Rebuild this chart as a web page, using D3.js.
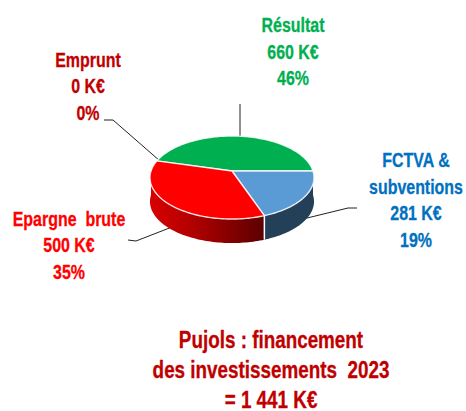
<!DOCTYPE html>
<html>
<head>
    <title>Pujols financement 2023</title>
    <script src="https://cdnjs.cloudflare.com/ajax/libs/d3/7.8.5/d3.min.js"></script>
    <style>
        html, body { margin: 0; padding: 0; background: #fff; }
        text { font-family: "Liberation Sans", Arial, sans-serif; font-weight: bold; text-anchor: middle; white-space: pre; }
    </style>
</head>
<body>
    <div id="vis"></div>

    <script>
        var categories = ["Emprunt", "Résultat", "FCTVA", "Epargne brute"];
        var values = [0, 660, 281, 500];
        var sliceColors = ["#c00000", "#00b050", "#5b9bd5", "#ff0000"];
        var labelLines = [
            ["Emprunt", "0 K€", "0%"],
            ["Résultat", "660 K€", "46%"],
            ["FCTVA &", "subventions", "281 K€", "19%"],
            ["Epargne  brute", "500 K€", "35%"]
        ];
        var labelColors = ["#c00000", "#00b050", "#0070c0", "#ff0000"];
        var titleLines = ["Pujols : financement", "des investissements  2023", "= 1 441 K€"];

        var width = 466, height = 411;
        var cx = 232, cy = 171, radius = 81, tilt = 0.5, persp = 0.157, depth = 24;

        var vis = d3.select("#vis").append("svg")
            .attr("width", width)
            .attr("height", height);

        var defs = vis.append("defs");
        var grad = defs.append("linearGradient").attr("id", "redSide");
        grad.append("stop").attr("offset", "0%").attr("stop-color", "#d80000");
        grad.append("stop").attr("offset", "35%").attr("stop-color", "#b40000");
        grad.append("stop").attr("offset", "100%").attr("stop-color", "#5c0000");

        // flat pie angles -> tilted disc with a bit of perspective
        function project(a, r, drop) {
            var X = Math.sin(a) * r, Y = -Math.cos(a) * r;
            var s = 1 / (1 - persp * Y);
            return [cx + radius * X * s, cy + radius * tilt * Y * s + (drop || 0)];
        }

        var pie = d3.pie().sort(null)
            .startAngle(285 * Math.PI / 180)
            .endAngle(645 * Math.PI / 180);
        var slices = pie(values);

        var line = d3.line();

        function rim(a0, a1, drop) {
            var n = Math.max(2, Math.ceil((a1 - a0) * 40));
            return d3.range(n + 1).map(function(i) {
                return project(a0 + (a1 - a0) * i / n, 1, drop);
            });
        }

        // leader lines go under the pie
        var leaders = [
            [[104, 120], [113, 120], [160, 161]],
            [[240, 104], [240, 137]],
            [[357, 208], [348, 208], [303, 219]],
            [[128, 240], [136, 241], [172, 227]]
        ];
        vis.selectAll("path.leader").data(leaders).enter().append("path")
            .attr("class", "leader")
            .attr("d", line)
            .style("fill", "none")
            .style("stroke", "#222")
            .style("stroke-width", 1);

        // side walls, only the part facing us (pie angles run past 360 deg here)
        var sides = [
            { slice: slices[2], fill: "#243f58" },
            { slice: slices[3], fill: "url(#redSide)" }
        ];
        vis.selectAll("path.side").data(sides).enter().append("path")
            .attr("class", "side")
            .attr("d", function(d) {
                var a0 = Math.max(d.slice.startAngle, 2.5 * Math.PI);
                var a1 = Math.min(d.slice.endAngle, 3.5 * Math.PI);
                return line(rim(a0, a1, 0).concat(rim(a0, a1, depth).reverse())) + "Z";
            })
            .style("fill", function(d) { return d.fill; });

        // white split between the two walls
        vis.append("path")
            .attr("d", line(rim(slices[3].startAngle, slices[3].startAngle, 0).slice(0, 1)
                .concat(rim(slices[3].startAngle, slices[3].startAngle, depth).slice(0, 1))))
            .style("stroke", "#fff")
            .style("stroke-width", 1.5);

        // top of the pie
        vis.selectAll("path.top").data(slices).enter().append("path")
            .attr("class", "top")
            .attr("d", function(d) {
                return line([[cx, cy]].concat(rim(d.startAngle, d.endAngle, 0))) + "Z";
            })
            .style("fill", function(d, i) { return sliceColors[i]; })
            .style("stroke", "#fff")
            .style("stroke-width", 1.4)
            .style("stroke-opacity", 0.85);

        function addText(lines, x, y, step, size, squeeze, color) {
            var g = vis.append("g")
                .attr("transform", "translate(" + x + ",0) scale(" + squeeze + ",1)")
                .style("fill", color)
                .style("stroke", color)
                .style("stroke-width", 0.3)
                .style("font-size", size + "px");
            g.selectAll("text").data(lines).enter().append("text")
                .attr("y", function(d, i) { return y + i * step; })
                .text(function(d) { return d; });
        }

        var labelPos = [[88, 67, 26.5], [293, 32, 26.7], [416, 167, 26.7], [69, 226, 26.5]];
        labelLines.forEach(function(l, i) {
            addText(l, labelPos[i][0], labelPos[i][1], labelPos[i][2], 21, 0.76, labelColors[i]);
        });
        addText(titleLines, 271, 348, 30, 23, 0.82, "#c00000");
    </script>
</body>
</html>
